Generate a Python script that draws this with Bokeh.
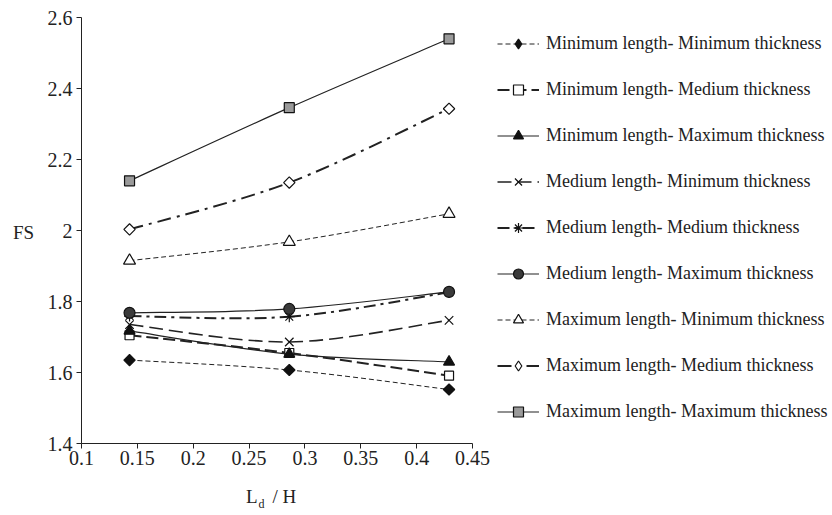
import math
from bokeh.plotting import figure
from bokeh.models import Legend, LegendItem, Label, FixedTicker, ColumnDataSource, Range1d
from bokeh.embed import file_html
from bokeh.resources import INLINE

# ---- data ----
ld_h = [0.143, 0.286, 0.429]
min_min = [1.635, 1.607, 1.552]
min_med = [1.705, 1.655, 1.591]
min_max = [1.717, 1.652, 1.630]
med_min = [1.735, 1.686, 1.747]
med_med = [1.759, 1.757, 1.826]
med_max = [1.768, 1.779, 1.827]
max_min = [1.915, 1.968, 2.047]
max_med = [2.003, 2.135, 2.343]
max_max = [2.140, 2.346, 2.540]

names = [
    "Minimum length- Minimum thickness",
    "Minimum length- Medium thickness",
    "Minimum length- Maximum thickness",
    "Medium length- Minimum thickness",
    "Medium length- Medium thickness",
    "Medium length- Maximum thickness",
    "Maximum length- Minimum thickness",
    "Maximum length- Medium thickness",
    "Maximum length- Maximum thickness",
]
series = [min_min, min_med, min_max, med_min, med_med, med_max, max_min, max_med, max_max]

x_ticks = [0.1, 0.15, 0.2, 0.25, 0.3, 0.35, 0.4, 0.45]
x_tick_labels = ["0.1", "0.15", "0.2", "0.25", "0.3", "0.35", "0.4", "0.45"]
y_ticks = [1.4, 1.6, 1.8, 2.0, 2.2, 2.4, 2.6]
y_tick_labels = ["1.4", "1.6", "1.8", "2", "2.2", "2.4", "2.6"]
x_min, x_max = 0.1, 0.45
y_min, y_max = 1.4, 2.6

# ---- layout (pixels) ----
W, H = 832, 515
AX_L, AX_R, AX_T, AX_B = 81, 472, 17, 443   # where the axes box sits on the canvas
kx = (AX_R - AX_L) / (x_max - x_min)
ky = (AX_B - AX_T) / (y_max - y_min)
x_range = Range1d(x_min - AX_L / kx, x_min - AX_L / kx + W / kx)
y_range = Range1d(y_max + AX_T / ky - H / ky, y_max + AX_T / ky)


def px_x(px):
    return x_range.start + px / kx


def px_y(py):
    return y_range.end - py / ky


# ---- styles ----
LC = "#222222"
styles = [
    dict(lw=1.0, dash="5 3", marker="square", angle=math.pi / 4, size=8, fill="#111111", leg="diamond"),
    dict(lw=2.0, dash="12 5", marker="square", angle=0, size=9, fill="white", leg="square"),
    dict(lw=1.2, dash="solid", marker="triangle", angle=0, size=11, fill="#111111", leg="triangle"),
    dict(lw=1.6, dash="14 6", marker="x", angle=0, size=12, fill="white", leg="x"),
    dict(lw=2.0, dash="12 5 3 5", marker="asterisk", angle=0, size=11, fill="white", leg="asterisk"),
    dict(lw=1.2, dash="solid", marker="circle", angle=0, size=11, fill="#3a3a3a", leg="circle"),
    dict(lw=1.0, dash="5 3", marker="triangle", angle=0, size=12, fill="white", leg="triangle"),
    dict(lw=2.0, dash="14 6 3 6", marker="square", angle=math.pi / 4, size=8, fill="white", leg="diamond"),
    dict(lw=1.2, dash="solid", marker="square", angle=0, size=10, fill="#9a9a9a", leg="square"),
]

FONT = "Liberation Serif"

p = figure(width=W, height=H, x_range=x_range, y_range=y_range,
           output_backend="svg", toolbar_location=None,
           min_border_left=0, min_border_right=0, min_border_top=0, min_border_bottom=0)
p.xgrid.visible = False
p.ygrid.visible = False
p.outline_line_color = None
p.background_fill_color = "white"
p.border_fill_color = "white"

p.xaxis[0].fixed_location = y_min
p.xaxis[0].bounds = (x_min, x_max)
p.yaxis[0].fixed_location = x_min
p.yaxis[0].bounds = (y_min, y_max)

for ax, ticks, labels in ((p.xaxis[0], x_ticks, x_tick_labels), (p.yaxis[0], y_ticks, y_tick_labels)):
    ax.ticker = FixedTicker(ticks=ticks)
    ax.major_label_overrides = {t: l for t, l in zip(ticks, labels)}
    ax.minor_tick_line_color = None
    ax.major_tick_in = 0
    ax.major_tick_out = 5
    ax.axis_line_color = LC
    ax.major_tick_line_color = LC
    ax.major_label_text_font = FONT
    ax.major_label_text_font_size = "20px"
    ax.major_label_text_color = LC
p.xaxis[0].major_label_standoff = 2
p.yaxis[0].major_label_standoff = 4


def bezier_segments(xs, ys):
    n = len(xs)
    seg = dict(x0=[], y0=[], x1=[], y1=[], cx0=[], cy0=[], cx1=[], cy1=[])
    for i in range(n - 1):
        xm1, ym1 = (xs[i - 1], ys[i - 1]) if i > 0 else (xs[i], ys[i])
        xp2, yp2 = (xs[i + 2], ys[i + 2]) if i + 2 < n else (xs[i + 1], ys[i + 1])
        seg["x0"].append(xs[i]); seg["y0"].append(ys[i])
        seg["x1"].append(xs[i + 1]); seg["y1"].append(ys[i + 1])
        seg["cx0"].append(xs[i] + (xs[i + 1] - xm1) / 6)
        seg["cy0"].append(ys[i] + (ys[i + 1] - ym1) / 6)
        seg["cx1"].append(xs[i + 1] - (xp2 - xs[i]) / 6)
        seg["cy1"].append(ys[i + 1] - (yp2 - ys[i]) / 6)
    return seg


NAN = [float("nan")]
items = []
for name, ys, st in zip(names, series, styles):
    src = ColumnDataSource(bezier_segments(ld_h, ys))
    p.bezier(x0="x0", y0="y0", x1="x1", y1="y1", cx0="cx0", cy0="cy0", cx1="cx1", cy1="cy1",
             source=src, line_color=LC, line_width=st["lw"], line_dash=st["dash"])
    p.scatter(x=ld_h, y=ys, marker=st["marker"], size=st["size"], angle=st["angle"],
              fill_color=st["fill"], line_color="#111111", line_width=1.2)
    # legend-only renderers (no visible data)
    leg_line = p.line(x=NAN, y=NAN, line_color=LC, line_width=st["lw"], line_dash=st["dash"])
    leg_mark = p.scatter(x=NAN, y=NAN, marker=st["leg"], fill_color=st["fill"],
                         line_color="#111111", line_width=1.2)
    items.append(LegendItem(label=name, renderers=[leg_line, leg_mark]))

# legend: first item centred at y=43 px, glyph starting at x=497 px, pitch 46 px
leg_h = 9 * 25 + 8 * 21
legend = Legend(items=items, location=(497, H - (30.5 + leg_h)), glyph_width=42, glyph_height=25,
                label_height=25, spacing=21, padding=0, margin=0, border_line_color=None,
                background_fill_alpha=0, label_text_font=FONT, label_text_font_size="18px",
                label_standoff=7, label_text_color=LC)
p.add_layout(legend)

p.add_layout(Label(x=px_x(23), y=px_y(232), text="FS", text_font=FONT, text_font_size="19px",
                   text_color=LC, text_align="center", text_baseline="middle"))
p.add_layout(Label(x=px_x(257), y=px_y(496), text="L", text_font=FONT, text_font_size="19px",
                   text_color=LC, text_align="right", text_baseline="middle"))
p.add_layout(Label(x=px_x(258), y=px_y(503), text="d", text_font=FONT, text_font_size="12px",
                   text_color=LC, text_align="left", text_baseline="middle"))
p.add_layout(Label(x=px_x(272), y=px_y(496), text="/ H", text_font=FONT, text_font_size="19px",
                   text_color=LC, text_align="left", text_baseline="middle"))

open("out.html", "w").write(file_html(p, INLINE))
